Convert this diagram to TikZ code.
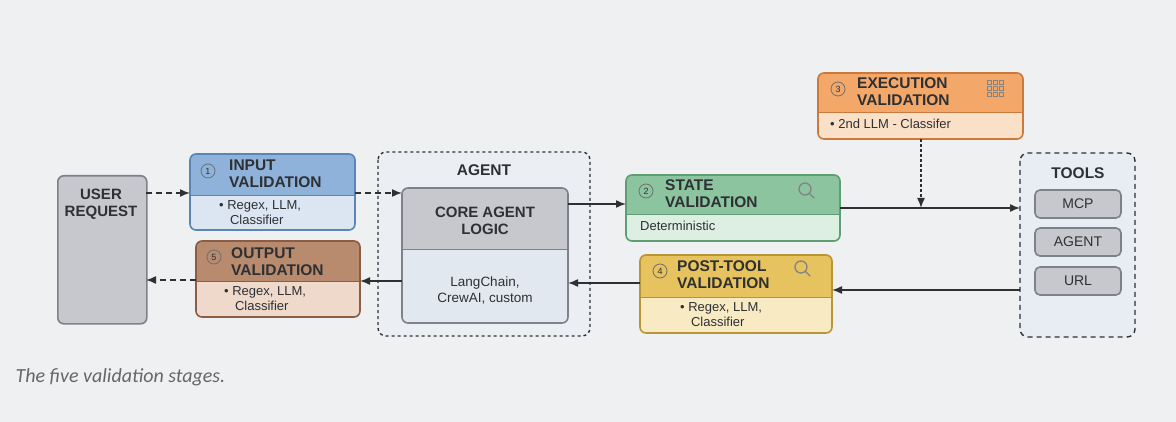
\documentclass[tikz,border=0pt]{standalone}
\usepackage{fontspec}
\setmainfont{Liberation Sans}
\newfontfamily\capfont{Carlito}
\usetikzlibrary{arrows.meta}
\definecolor{bg}{HTML}{EEF0F2}
\definecolor{inH}{HTML}{8EB2DA}\definecolor{inB}{HTML}{DCE6F2}\definecolor{inL}{HTML}{5B85B5}
\definecolor{outH}{HTML}{B88A6E}\definecolor{outB}{HTML}{EED9CB}\definecolor{outL}{HTML}{8A5E44}
\definecolor{stH}{HTML}{8CC4A0}\definecolor{stB}{HTML}{DDEEE2}\definecolor{stL}{HTML}{5E9E72}
\definecolor{exH}{HTML}{F3A86A}\definecolor{exB}{HTML}{FBE0C8}\definecolor{exL}{HTML}{C97A3C}
\definecolor{ptH}{HTML}{E6C35E}\definecolor{ptB}{HTML}{F8EBC4}\definecolor{ptL}{HTML}{B89636}
\definecolor{grH}{HTML}{C6C8CD}\definecolor{grL}{HTML}{7E8188}
\definecolor{agB}{HTML}{E2E8F0}\definecolor{grB}{HTML}{E2E8F0}\definecolor{txt}{HTML}{2E3033}
\tikzset{
  hdr/.style={font=\fontsize{15.5}{16}\selectfont\bfseries,text=txt,align=left,anchor=north west,inner sep=0pt},
  bdy/.style={font=\fontsize{13}{14.5}\selectfont,text=txt,align=left,anchor=north west,inner sep=0pt},
  badge/.style={circle,draw=txt!70,line width=0.8pt,inner sep=0.5pt,minimum size=14pt,font=\fontsize{9}{9}\selectfont,text=txt},
  flow/.style={-{Latex[length=10pt,width=8pt]},line width=1.5pt,draw=txt},
  dflow/.style={flow,dash pattern=on 6pt off 4pt},
  tool/.style={draw=grL,fill=grH,rounded corners=5pt,line width=1.6pt,minimum width=86pt,minimum height=28pt,font=\fontsize{14}{14}\selectfont,text=txt}
}
% box with coloured header: x1,y1,x2,y2,ysplit,colour prefix
\newcommand\stagebox[6]{%
  \begin{scope}
    \clip[rounded corners=6pt] (#1,#2) rectangle (#3,#4);
    \fill[#6B] (#1,#2) rectangle (#3,#4);
    \fill[#6H] (#1,#2) rectangle (#3,#5);
    \draw[#6L,line width=1pt] (#1,#5) -- (#3,#5);
  \end{scope}
  \draw[#6L,line width=1.6pt,rounded corners=6pt] (#1,#2) rectangle (#3,#4);
}
\newcommand\lens[1]{%
  \draw[txt!60,line width=1.3pt] (#1) circle (6pt) ++(-45:6pt) -- ++(-45:7pt);
}
\begin{document}
\begin{tikzpicture}[x=1pt,y=-1pt]
\fill[bg] (0,0) rectangle (1176,422);
\useasboundingbox (0,0) rectangle (1176,422);
% user request
\node[draw=grL,fill=grH,rounded corners=6pt,line width=1.6pt,minimum width=89pt,minimum height=148pt,anchor=north west] (user) at (57,175) {};
\node[font=\fontsize{15}{16}\selectfont\bfseries,text=txt,align=center] at (101,204) {USER\\[1pt]REQUEST};
% agent container
\draw[txt,line width=1.4pt,dash pattern=on 3pt off 3pt,fill=agB!70,rounded corners=8pt] (378,152) rectangle (590,336);
\node[font=\fontsize{15.5}{16}\selectfont\bfseries,text=txt] at (484,170) {AGENT};
\stagebox{402}{188}{568}{323}{250}{gr}
\node[font=\fontsize{15}{16}\selectfont\bfseries,text=txt,align=center] at (485,221) {CORE AGENT\\[1pt]LOGIC};
\node[font=\fontsize{13.5}{15}\selectfont,text=txt,align=center] at (485,290) {LangChain,\\[1pt]CrewAI, custom};
% stages
\stagebox{190}{154}{355}{230}{196}{in}
\node[badge] at (208,171) {1};
\node[hdr] at (229,160) {INPUT\\[1pt]VALIDATION};
\node[bdy] at (219,200) {• Regex, LLM,\\[1pt]\ \ \ Classifier};
\stagebox{196}{241}{360}{317}{282}{out}
\node[badge] at (214,257) {5};
\node[hdr] at (231,247) {OUTPUT\\[1pt]VALIDATION};
\node[bdy] at (224,286) {• Regex, LLM,\\[1pt]\ \ \ Classifier};
\stagebox{626}{175}{840}{241}{215}{st}
\node[badge] at (646,191) {2};
\node[hdr] at (665,179) {STATE\\[1pt]VALIDATION};
\node[bdy] at (640,221) {Deterministic};
\lens{805,189}
\stagebox{818}{73}{1023}{139}{113}{ex}
\node[badge] at (838,89) {3};
\node[hdr] at (857,77) {EXECUTION\\[1pt]VALIDATION};
\node[bdy] at (830,119) {• 2nd LLM - Classifer};
\foreach \i in {0,1,2} \foreach \j in {0,1,2}
  \draw[txt!60,line width=0.7pt] (987+\i*6,80+\j*6) rectangle ++(4.5,4.5);
\stagebox{640}{255}{832}{333}{298}{pt}
\node[badge] at (660,271) {4};
\node[hdr] at (677,260) {POST-TOOL\\[1pt]VALIDATION};
\node[bdy] at (680,302) {• Regex, LLM,\\[1pt]\ \ \ Classifier};
\lens{801,267}
% tools
\draw[txt,line width=1.4pt,dash pattern=on 5pt off 4pt,fill=agB!80,rounded corners=8pt] (1020,153) rectangle (1135,337);
\node[font=\fontsize{15.5}{16}\selectfont\bfseries,text=txt] at (1078,173) {TOOLS};
\node[tool] (mcp) at (1078,204) {MCP};
\node[tool] (agt) at (1078,242) {AGENT};
\node[tool] (url) at (1078,281) {URL};
% flows
\draw[dflow] (146,193) -- (190,193);
\draw[dflow] (355,193) -- (402,193);
\draw[flow] (568,204) -- (626,204);
\draw[flow] (840,208) -- (1020,208);
\draw[flow,dash pattern=on 3pt off 2pt] (921,139) -- (921,208);
\draw[flow] (1020,290) -- (832,290);
\draw[flow] (640,283) -- (568,283);
\draw[flow] (402,281) -- (360,281);
\draw[dflow] (196,280) -- (146,280);
% caption
\node[font=\capfont\itshape\fontsize{20}{20}\selectfont,text=black!60,anchor=west] at (12,377) {The five validation stages.};
\end{tikzpicture}
\end{document}
